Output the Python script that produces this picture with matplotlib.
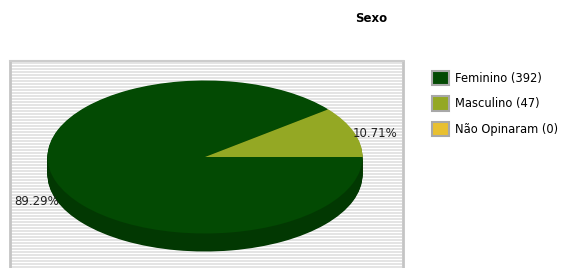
import numpy as np
import matplotlib.pyplot as plt
from matplotlib.patches import Patch, Rectangle

# data
categories = ['Feminino', 'Masculino', 'Não Opinaram']
counts = [392, 47, 0]
colors = ['#034a03', '#94a824', '#e8c030']
side_colors = ['#023802', '#6f7e1b', '#b0922a']
title = 'Sexo'

W, H = 561, 268
fig = plt.figure(figsize=(W / 100, H / 100), dpi=100)
fig.patch.set_facecolor('white')

# plot area background (striped) in pixel coords
bg = fig.add_axes([0, 0, 1, 1])
bg.set_xlim(0, W)
bg.set_ylim(H, 0)
bg.axis('off')
bg.add_patch(Rectangle((10, 61), 393, 210, facecolor='white', edgecolor='none'))
for y in np.arange(62.5, 268, 3):
    bg.plot([11, 402], [y, y], color='#e4e4e4', lw=1.4, solid_capstyle='butt')
bg.plot([10, 10], [61, 268], color='#c4c4c4', lw=2)
bg.plot([403, 403], [61, 268], color='#c4c4c4', lw=2)
bg.plot([10, 403], [61, 61], color='#cccccc', lw=1.5)

# pie: ellipse center (205,157), rx 157.5, ry 76.5, depth 18 px
cx, cy, rx, ry, depth = 205, 157, 157.5, 76.5, 18
d = depth / ry
ax = fig.add_axes([(cx - rx) / W, (H - cy - ry - depth) / H,
                   2 * rx / W, (2 * ry + depth) / H])

vals = [v for v in counts if v > 0]
cols = [c for c, v in zip(colors, counts) if v > 0]
scols = [c for c, v in zip(side_colors, counts) if v > 0]

# side of the 3D pie: stacked copies
for off in np.linspace(d, 0.01, 20):
    ax.pie(vals, colors=scols, startangle=0, counterclock=False,
           center=(0, -off), wedgeprops=dict(linewidth=0))

wedges, texts, autotexts = ax.pie(
    vals, colors=cols, startangle=0, counterclock=False,
    wedgeprops=dict(linewidth=0),
    autopct=lambda p: f'{p:.2f}%', pctdistance=1.1,
    textprops=dict(fontsize=8.5, color='#222222'))
autotexts[0].set_position((-1.07, -0.58))
autotexts[1].set_position((1.08, 0.31))
ax.set_aspect('auto')
ax.set_xlim(-1, 1)
ax.set_ylim(-1 - d, 1)
ax.axis('off')

# legend
handles = [Patch(facecolor=c, edgecolor='#a8a8a8', linewidth=1.5, label=f'{n} ({v})')
           for n, v, c in zip(categories, counts, colors)]
fig.legend(handles=handles, loc='upper left', bbox_to_anchor=(432 / W, 1 - 71 / H),
           frameon=False, fontsize=8.3, handlelength=1.5, handleheight=1.55,
           handletextpad=0.5, labelspacing=0.95, borderaxespad=0, borderpad=0)

fig.text(371 / W, 1 - 18 / H, title, ha='center', va='center',
         fontsize=8.5, fontweight='bold')

fig.savefig('out.png', dpi=100)
